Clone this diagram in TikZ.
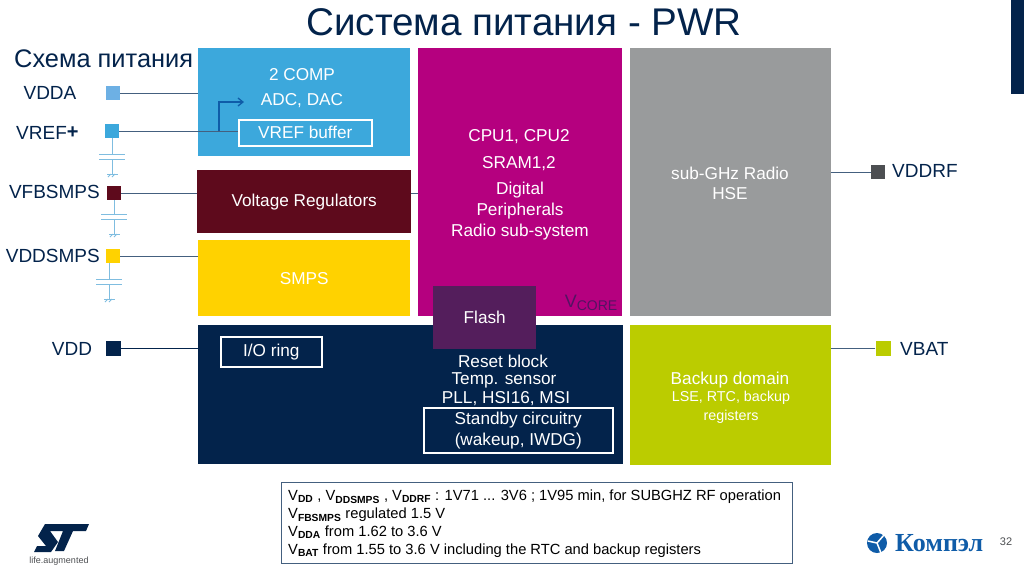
\documentclass[tikz,border=0pt]{standalone}
\usepackage{fontspec}
\setmainfont{Liberation Sans}
\newfontfamily\logofont{Liberation Serif}
\usetikzlibrary{arrows.meta,positioning}
\definecolor{StBlue}{HTML}{3CA8DC}
\definecolor{StPale}{HTML}{6DB0E4}
\definecolor{StWine}{HTML}{5E0A1C}
\definecolor{StYellow}{HTML}{FFD200}
\definecolor{StPink}{HTML}{B5007F}
\definecolor{StGrey}{HTML}{999B9C}
\definecolor{StNavy}{HTML}{03234B}
\definecolor{StLime}{HTML}{BBCC00}
\definecolor{StPlum}{HTML}{541E5C}
\definecolor{StSlate}{HTML}{4D4F52}
\definecolor{StCap}{HTML}{7FBDE0}
\definecolor{StLink}{HTML}{44607F}
\definecolor{StLogo}{HTML}{0F5CA8}
\tikzset{
  % Coloured block
  blk/.style={
    rectangle, fill=#1, inner sep=0pt, anchor=north west,
    align=center, text=white, font=\fontsize{17.2}{20}\selectfont
  },
  % Outlined box inside a block
  inbox/.style={
    rectangle, draw=white, line width=1.6pt, inner sep=0pt, anchor=north west,
    align=center, text=white, font=\fontsize{17.2}{20}\selectfont
  },
  % Free text inside a block
  txt/.style={text=white, inner sep=0pt, align=center, font=\fontsize{17.2}{20}\selectfont},
  % Supply pin
  pinbox/.style={rectangle, fill=#1, minimum size=14pt, inner sep=0pt},
  % Pin name
  pinname/.style={text=StNavy, inner sep=0pt, font=\fontsize{19}{22}\selectfont},
  % Connector
  lnk/.style={line width=1pt, color=StLink},
  % Capacitor parts
  capline/.style={line width=0.8pt, color=StCap}
}
\begin{document}
\begin{tikzpicture}[x=1pt,y=-1pt]
  \useasboundingbox (0,0) rectangle (1024,574);
  % title and corner
  \node[text=StNavy, inner sep=0pt, font=\fontsize{38.6}{42}\selectfont] (title) at (524,22) {Система питания - PWR};
  \fill[StNavy] (1011,0) rectangle (1024,94);
  \node[text=StNavy, inner sep=0pt, anchor=west, font=\fontsize{25.4}{28}\selectfont] (scheme) at (14,59) {Схема питания};

  % blocks
  \node[blk=StBlue, minimum width=212pt, minimum height=108pt] (analog) at (198,48) {};
  \node[blk=StPink, minimum width=204pt, minimum height=268pt] (core) at (418,48) {};
  \node[blk=StGrey, minimum width=201pt, minimum height=268pt] (radio) at (630,48) {};
  \node[blk=StWine, minimum width=214pt, minimum height=63pt] (reg) at (197,170) {\raisebox{-1.5pt}{Voltage Regulators}};
  \node[blk=StYellow, minimum width=212pt, minimum height=76pt] (smps) at (198,240) {SMPS};
  \node[blk=StNavy, minimum width=425pt, minimum height=139pt] (vdd) at (198,325) {};
  \node[blk=StLime, minimum width=201pt, minimum height=140pt] (backup) at (630,325) {};
  \node[blk=StPlum, minimum width=103pt, minimum height=63pt] (flash) at (433,286) {\raisebox{-1pt}{Flash}};

  % block texts
  \node[txt] (comp) at (302,75) {2 COMP};
  \node[txt] (adc) at (302,101) {ADC, DAC};
  \node[inbox, minimum width=133pt, minimum height=26pt] (vrefbuf) at (238,119) {\raisebox{-1pt}{VREF buffer}};
  \node[txt] (cpu) at (519,137) {CPU1, CPU2};
  \node[txt] (sram) at (519,164) {SRAM1,2};
  \node[txt] (dig) at (520,211) {Digital\\[1pt]Peripherals\\[1pt]Radio sub-system};
  \node[text=StPink!45!StNavy, inner sep=0pt, font=\fontsize{18}{22}\selectfont] (vcore) at (591,303) {V\raisebox{-3pt}{\fontsize{14}{18}\selectfont CORE}};
  \node[txt] (ghz) at (730,183) {sub-GHz Radio\\HSE};
  \node[inbox, minimum width=101pt, minimum height=30pt] (ioring) at (220,336) {I/O ring};
  \node[txt] (reset) at (503,361) {Reset block};
  \node[txt] (temp) at (504,380) {Temp. sensor};
  \node[txt] (pll) at (506,399) {PLL, HSI16, MSI};
  \node[inbox, minimum width=189pt, minimum height=45pt] (standby) at (423,407) {\raisebox{-1pt}{Standby circuitry}\\[1pt]\raisebox{-1pt}{(wakeup, IWDG)}};
  \node[txt] (bkp) at (730,380) {Backup domain};
  \node[txt, font=\fontsize{14.3}{19}\selectfont] (lse) at (731,407.5) {LSE, RTC, backup\\registers};

  % left pins
  \node[pinbox=StPale] (pdda) at (113,93) {};
  \node[pinbox=StBlue] (pref) at (112,131) {};
  \node[pinbox=StWine] (pfb) at (114,193) {};
  \node[pinbox=StYellow] (pdsm) at (113,256) {};
  \node[pinbox=StNavy, minimum size=15pt] (pdd) at (113,348) {};
  \node[pinname] (ndda) at (50,93) {VDDA};
  \node[pinname, anchor=west] (nref) at (16,133) {VREF\raisebox{1pt}{\textbf{\fontsize{20}{20}\selectfont +}}};
  \node[pinname, anchor=east] (nfb) at (100,192) {VFBSMPS};
  \node[pinname, anchor=east] (ndsm) at (100,256) {VDDSMPS};
  \node[pinname] (ndd) at (72,349) {VDD};

  % right pins
  \node[pinbox=StSlate] (prf) at (878,172) {};
  \node[pinbox=StLime, minimum size=15pt] (pbat) at (883,348) {};
  \node[pinname, anchor=west] (nrf) at (892,171) {VDDRF};
  \node[pinname, anchor=west] (nbat) at (900,349) {VBAT};

  % connectors
  \draw[lnk] (pdda.east) -- (pdda.east -| analog.west);
  \draw[lnk] (pref.east) -- (pref.east -| vrefbuf.west);
  \draw[lnk] (pfb.east) -- (pfb.east -| reg.west);
  \draw[lnk] (pdsm.east) -- (pdsm.east -| smps.west);
  \draw[lnk, StNavy] (pdd.east) -- (pdd.east -| vdd.west);
  \draw[lnk] (prf.west) -- (prf.west -| radio.east);
  \draw[lnk] (pbat.west) -- (pbat.west -| backup.east);
  \draw[lnk] (reg.east |- pfb.east) -- (core.west |- pfb.east);
  \coordinate (tap) at (219,131);
  \coordinate (tip) at (244,102);
  \draw[StLogo, line width=1.3pt, -{Straight Barb[length=5pt,width=8pt]}] (tap) |- (tip);

  % capacitors
  \foreach \pn/\tx/\ty in {pref/112/159, pfb/114/219, pdsm/109/284}{
    \coordinate (top) at (\tx,\ty-5);
    \draw[capline] (\pn.south -| top) -- (top);
    \draw[capline] (\tx-13,\ty-5) -- (\tx+13,\ty-5);
    \draw[capline] (\tx-13,\ty) -- (\tx+13,\ty);
    \draw[capline] (\tx,\ty) -- (\tx,\ty+15);
    \draw[capline] (\tx-5,\ty+15) -- (\tx+6,\ty+15);
    \draw[capline] (\tx-4,\ty+18) -- (\tx-1,\ty+15) (\tx,\ty+18) -- (\tx+3,\ty+15);
  }

  % note
  \node[draw=StLink, line width=1pt, fill=white, anchor=north west, minimum width=511pt, minimum height=81pt, inner sep=0pt] (note) at (281,482) {};
  \node[anchor=west, inner sep=0pt, text=black, align=left, font=\fontsize{14.7}{18}\selectfont] (notetxt) at (288,524) {%
    V\textsubscript{\textbf{DD}} , V\textsubscript{\textbf{DDSMPS}} , V\textsubscript{\textbf{DDRF}} : 1V71 ... 3V6 ; 1V95 min, for SUBGHZ RF operation\\
    V\textsubscript{\textbf{FBSMPS}} regulated 1.5 V\\
    V\textsubscript{\textbf{DDA}} from 1.62 to 3.6 V\\
    V\textsubscript{\textbf{BAT}} from 1.55 to 3.6 V including the RTC and backup registers};

  % logos and page number
  \fill[StNavy] (45,524) -- (89,524) -- (86,531) -- (73,531) -- (64,551) -- (55,551) -- (63,531) -- (50,531) -- (58,542) -- (51,552) -- (34,552) -- (37,546) -- (46,546) -- (38,536) -- cycle;
  \node[text=StSlate, inner sep=0pt, font=\fontsize{9}{10}\selectfont] (life) at (59,561) {life.augmented};
  \node[text=StLogo, inner sep=0pt, anchor=west, font=\logofont\bfseries\fontsize{26}{28}\selectfont] (kompel) at (895,543) {Компэл};
  \fill[StLogo] (877,543) circle (10);
  \draw[white, line width=1.5pt] (877,543) -- (884,535) (877,543) -- (868,541) (877,543) -- (881,553);
  \node[text=StSlate, inner sep=0pt, font=\fontsize{11}{12}\selectfont] (page) at (1006,542) {32};
\end{tikzpicture}
\end{document}
